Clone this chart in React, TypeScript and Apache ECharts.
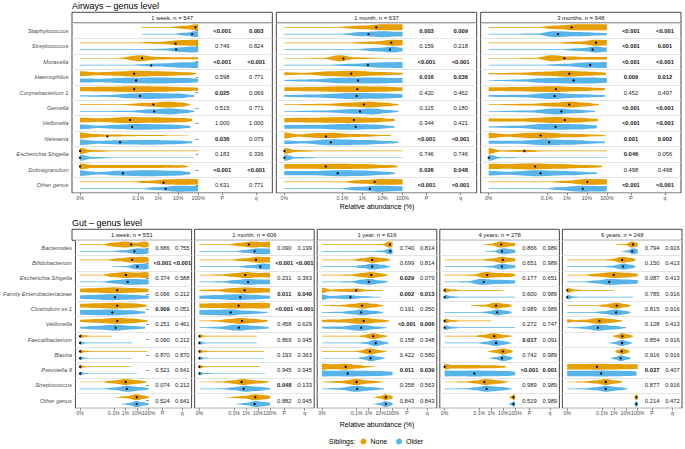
import React, { useEffect, useRef } from "react";
import * as echarts from "echarts";

// x positions are log10(relative abundance as a fraction); 0% is drawn at Z
const Z = -5.9;
const FONT = "'Liberation Sans', Arial, Helvetica, sans-serif";
const NONE_COLOR = "#E69F00";
const OLDER_COLOR = "#56B4E9";

const xLabelValues = [Z, -3, -2, -1, 0, 1.2, 2.9];
const xLabelTexts = ["0%", "0.1%", "1%", "10%", "100%", "P", "q"];

const airwaysGenera = ["Staphylococcus", "Streptococcus", "Moraxella", "Haemophilus", "Corynebacterium 1", "Gemella", "Veillonella", "Neisseria", "Escherichia Shigella", "Dolosigranulum", "Other genus"];
const gutGenera = ["Bacteroides", "Bifidobacterium", "Escherichia Shigella", "Family Enterobacteriaceae", "Clostridium ss 1", "Veillonella", "Faecalibacterium", "Blautia", "Prevotella 9", "Streptococcus", "Other genus"];

const airwaysTitles = ["1 week, n = 547", "1 month, n = 637", "3 months, n = 648"];
const gutTitles = ["1 week, n = 551", "1 month, n = 606", "1 year, n = 616", "4 years, n = 278", "6 years, n = 248"];

// ---------- Airways, 1 week ----------
const awWeekNone = [
  [-2.85, 0.05, -1.5, 0.12, -0.6, 0.55, -0.1, 1, 0, 1],
  [Z, 0.04, -3.5, 0.06, -2, 0.3, -0.8, 0.9, -0.2, 1, 0, 1],
  [Z, 0.05, -4, 0.1, -2.9, 1, -2, 0.4, -1, 0.35, 0, 0.35],
  [Z, 0.8, -5, 0.5, -4, 0.7, -3.2, 1, -2, 0.8, -0.5, 0.5, -0.1, 0.2],
  [Z, 0.7, -4.5, 0.8, -3.2, 1, -2, 0.9, -0.5, 0.6, 0, 0.5],
  [Z, 0.05, -3.8, 0.15, -2.5, 0.6, -1.5, 1, -0.8, 0.7, -0.4, 0.2],
  [Z, 0.8, -5, 0.6, -3.5, 1, -2, 0.9, -0.7, 0.7, -0.3, 0.4],
  [Z, 1, -5.2, 0.5, -4.5, 0.35, -3, 0.2, -1, 0.1, -0.5, 0.05],
  [Z, 1, -5.3, 0.3, -4, 0.1, -1, 0.06, 0, 0.04],
  [Z, 1, -5.3, 0.5, -4, 0.5, -2, 0.5, -0.8, 0.4, -0.5, 0.2],
  [Z, 0.04, -3.5, 0.06, -2.5, 0.4, -1.5, 0.9, -0.5, 1, 0, 0.9],
];
const awWeekOlder = [
  [-2.8, 0.05, -1.3, 0.1, -0.6, 0.5, -0.15, 1, 0, 0.9],
  [Z, 0.04, -3, 0.06, -1.8, 0.25, -0.8, 0.8, -0.3, 1, 0, 0.9],
  [Z, 0.04, -3.5, 0.1, -2, 0.5, -0.8, 0.9, 0, 1],
  [Z, 0.7, -5, 0.6, -3.5, 0.9, -2, 1, -0.5, 0.8, 0, 0.6],
  [Z, 0.2, -4.5, 0.3, -3.3, 0.8, -2.5, 1, -1, 0.8, -0.2, 0.3],
  [Z, 0.05, -3.5, 0.2, -2.3, 0.7, -1.4, 1, -0.6, 0.6, -0.2, 0.2],
  [Z, 0.8, -5, 0.4, -4, 0.7, -3, 1, -1.5, 0.8, -0.4, 0.4],
  [Z, 0.9, -5, 0.5, -3.9, 0.7, -2.5, 0.8, -1, 0.6, -0.3, 0.3],
  [Z, 1, -5.3, 0.3, -4, 0.1, -1, 0.06, -0.2, 0.04],
  [Z, 0.9, -5, 0.4, -4, 0.8, -2.5, 1, -1, 0.8, -0.4, 0.4],
  [Z, 0.04, -3, 0.06, -2, 0.5, -1, 1, 0, 0.9],
];
const awWeekNoneDot = [-0.14, -1.15, -2.8, -3.2, -3.2, -2.24, -3.4, -4.55, Z, Z, -1.75];
const awWeekOlderDot = [-0.3, -1.1, -2.35, -3.1, -2.9, -2.2, -3.3, -3.9, Z, -3.76, -1.63];
const awWeekP = ["<0.001", "0.749", "<0.001", "0.598", "0.025", "0.515", "1.000", "0.036", "0.183", "<0.001", "0.631"];
const awWeekQ = ["0.003", "0.824", "<0.001", "0.771", "0.069", "0.771", "1.000", "0.079", "0.336", "<0.001", "0.771"];

// ---------- Airways, 1 month ----------
const awMonthNone = [
  [Z, 0.04, -3.4, 0.1, -2, 0.6, -1, 1, 0, 1],
  [Z, 0.04, -3, 0.08, -1.5, 0.4, -0.4, 1, 0, 0.9],
  [Z, 0.05, -4, 0.15, -3.1, 1, -2.4, 0.3, -1, 0.1, 0, 0.08],
  [Z, 0.5, -5, 0.3, -3.5, 0.8, -2.6, 1, -1.2, 0.6, 0, 0.3],
  [Z, 0.6, -4.5, 0.7, -2.8, 1, -1.2, 0.9, 0, 0.6],
  [Z, 0.1, -4, 0.25, -2.5, 0.7, -1.7, 1, -0.8, 0.6, -0.2, 0.2],
  [Z, 0.7, -4.5, 0.8, -2.8, 1, -1.5, 0.8, -0.4, 0.4],
  [Z, 1, -5.2, 0.4, -4.3, 0.8, -3.5, 0.9, -2.5, 0.5, -0.6, 0.15],
  [Z, 1, -5.3, 0.3, -4, 0.1, -1, 0.05, 0, 0.04],
  [Z, 0.8, -4.5, 0.8, -3.5, 0.9, -2, 0.8, -0.8, 0.5, -0.25, 0.3],
  [Z, 0.04, -3.2, 0.08, -2, 0.6, -1, 1, 0, 0.9],
];
const awMonthOlder = [
  [Z, 0.04, -3.2, 0.1, -2, 0.7, -1, 1, -0.3, 0.8, 0, 0.8],
  [Z, 0.04, -2.5, 0.08, -1.2, 0.6, -0.5, 1, 0, 0.6],
  [Z, 0.04, -4, 0.08, -2.5, 0.4, -1, 0.9, 0, 1],
  [Z, 0.2, -4.5, 0.4, -3, 0.9, -1.5, 1, 0, 0.8],
  [Z, 0.3, -4.5, 0.5, -2.5, 1, -1, 0.9, 0, 0.6],
  [Z, 0.1, -4, 0.3, -2.3, 0.8, -1.5, 1, -0.7, 0.5, -0.2, 0.2],
  [Z, 0.6, -4.5, 0.6, -2.7, 1, -1.5, 0.8, -0.4, 0.3],
  [Z, 0.6, -5, 0.4, -3.5, 1, -2, 0.8, -0.5, 0.4, -0.2, 0.2],
  [Z, 1, -5.3, 0.25, -4, 0.08, -1, 0.05, 0, 0.04],
  [Z, 0.7, -4.5, 0.7, -3.2, 1, -2, 0.9, -0.8, 0.5, -0.4, 0.3],
  [Z, 0.04, -3.2, 0.08, -2.2, 0.6, -1.2, 1, 0, 0.8],
];
const awMonthNoneDot = [-1.31, -0.56, -2.95, -2.56, -2.26, -1.93, -2.43, -3.85, Z, -3.83, -1.39];
const awMonthOlderDot = [-1.7, -0.63, -1.73, -2.22, -2.29, -2.12, -2.34, -3.58, Z, -3.24, -1.63];
const awMonthP = ["0.003", "0.159", "<0.001", "0.016", "0.420", "0.115", "0.344", "<0.001", "0.746", "0.026", "<0.001"];
const awMonthQ = ["0.009", "0.218", "<0.001", "0.036", "0.462", "0.180", "0.421", "<0.001", "0.746", "0.048", "<0.001"];

// ---------- Airways, 3 months ----------
const aw3MonthNone = [
  [Z, 0.04, -3.5, 0.1, -2.5, 0.6, -1.5, 1, 0, 1],
  [Z, 0.04, -2.8, 0.08, -1.4, 0.4, -0.5, 1, 0, 0.9],
  [Z, 0.04, -3.6, 0.15, -2.7, 1, -2, 0.6, -1, 0.4, 0, 0.4],
  [Z, 0.2, -4.5, 0.3, -3, 0.7, -2, 1, -1, 0.7, -0.05, 0.4],
  [Z, 0.6, -4.5, 0.7, -2.7, 1, -1.5, 0.7, -0.1, 0.4],
  [Z, 0.1, -3.8, 0.3, -2.5, 0.7, -1.8, 1, -1, 0.6, -0.4, 0.2],
  [Z, 0.5, -4.5, 0.5, -2.5, 1, -1.5, 0.8, -0.45, 0.4],
  [Z, 0.9, -5, 0.4, -3.8, 0.9, -3.2, 1, -2, 0.6, -0.1, 0.2],
  [Z, 1, -5.3, 0.2, -4.6, 0.3, -4.1, 0.4, -3, 0.1, 0, 0.05],
  [Z, 0.9, -5, 0.8, -3.8, 1, -2.5, 0.8, -1, 0.5, -0.25, 0.3],
  [Z, 0.04, -3, 0.08, -2, 0.4, -1, 1, 0, 0.9],
];
const aw3MonthOlder = [
  [Z, 0.04, -3.5, 0.2, -2.6, 1, -1.5, 0.7, 0, 0.4],
  [Z, 0.04, -2.5, 0.08, -1.2, 0.5, -0.6, 1, 0, 0.7],
  [Z, 0.04, -3.5, 0.08, -2, 0.4, -1, 0.9, 0, 1],
  [Z, 0.1, -4.5, 0.3, -3, 0.8, -1.8, 1, -0.8, 1, 0, 0.8],
  [Z, 0.3, -4.3, 0.4, -2.7, 1, -1.5, 0.6, -0.1, 0.3],
  [Z, 0.1, -4, 0.3, -2.5, 1, -1.5, 0.6, -0.6, 0.2],
  [Z, 0.2, -4.5, 0.4, -3, 1, -1.5, 0.9, -0.5, 0.5],
  [Z, 0.5, -4.5, 0.5, -3, 1, -2, 0.8, -0.1, 0.3],
  [Z, 1, -5.3, 0.2, -4, 0.08, 0, 0.04],
  [Z, 0.8, -5, 0.5, -3.5, 1, -2, 0.7, -0.5, 0.3],
  [Z, 0.04, -3.2, 0.08, -2.3, 0.5, -1.3, 1, 0, 0.9],
];
const aw3MonthNoneDot = [-1.76, -0.54, -2.12, -1.88, -2.54, -1.88, -2.1, -3.31, -4.12, -3.58, -0.97];
const aw3MonthOlderDot = [-2.44, -0.71, -0.83, -1.66, -2.61, -2.27, -2.56, -2.88, Z, -3.31, -1.2];
const aw3MonthP = ["<0.001", "<0.001", "<0.001", "0.009", "0.452", "<0.001", "<0.001", "0.001", "0.046", "0.498", "<0.001"];
const aw3MonthQ = ["<0.001", "0.001", "<0.001", "0.012", "0.497", "<0.001", "<0.001", "0.002", "0.056", "0.498", "<0.001"];

// ---------- Gut, 1 week ----------
const gutWeekNone = [
  [Z, 0.04, -4, 0.1, -3, 0.7, -2, 1, -1, 0.6, -0.4, 1, 0, 0.8],
  [Z, 0.04, -3.8, 0.1, -2.5, 0.5, -1.5, 0.9, -0.5, 1, 0, 0.8],
  [Z, 0.04, -4, 0.15, -3, 0.7, -2, 1, -1, 0.8, -0.3, 1, 0, 0.9],
  [Z, 0.6, -5, 0.7, -3, 1, -1.5, 0.8, -0.3, 0.6, 0, 0.4],
  [Z, 0.6, -4.5, 0.8, -2.8, 1, -1.5, 0.8, -0.2, 0.4],
  [Z, 0.4, -4.5, 0.6, -2.8, 1, -1.5, 0.8, -0.1, 0.3],
  [Z, 0.7, -5.5, 0.3, -5, 0.08, -3.2, 0.04],
  [Z, 0.7, -5.5, 0.25, -4.8, 0.08, -2, 0.05, -0.1, 0.03],
  [Z, 0.7, -5.5, 0.2, -5, 0.06, -1.6, 0.04],
  [Z, 0.04, -4, 0.1, -3, 0.5, -2, 1, -1, 0.6, -0.2, 0.2],
  [-2.9, 0.05, -2, 0.3, -1, 1, -0.5, 0.6, 0, 0.3],
];
const gutWeekOlder = [
  [Z, 0.04, -3.5, 0.08, -2, 0.4, -1, 1, -0.2, 0.9, 0, 0.6],
  [-3.1, 0.05, -2, 0.2, -1, 0.9, -0.3, 1, 0, 0.7],
  [Z, 0.04, -4, 0.1, -2.8, 0.6, -1.7, 1, -0.5, 0.9, 0, 0.8],
  [Z, 0.6, -5, 0.7, -3.2, 1, -1.5, 0.8, 0, 0.5],
  [Z, 0.8, -4.5, 0.9, -3.2, 1, -1.5, 0.7, -0.3, 0.3],
  [Z, 0.3, -4.5, 0.6, -2.9, 1, -1.5, 0.6, -0.3, 0.3],
  [Z, 0.6, -5.5, 0.2, -5, 0.06, -1.4, 0.04],
  [Z, 0.6, -5.5, 0.2, -5, 0.06, -1.4, 0.04],
  [Z, 0.6, -5.5, 0.2, -5, 0.06, -1, 0.04],
  [Z, 0.04, -4, 0.08, -3, 0.4, -1.8, 1, -0.8, 0.6, 0, 0.3],
  [-2.3, 0.05, -1.7, 0.4, -1, 1, -0.5, 0.6, 0, 0.3],
];
const gutWeekNoneDot = [-1.5, -1.42, -1.95, -2.7, -2.7, -2.7, Z, Z, Z, -1.98, -1.03];
const gutWeekOlderDot = [-1.22, -0.97, -1.81, -2.9, -3.12, -2.84, Z, Z, Z, -1.87, -1.03];
const gutWeekP = ["0.686", "<0.001", "0.374", "0.096", "0.009", "0.251", "0.090", "0.870", "0.521", "0.074", "0.524"];
const gutWeekQ = ["0.755", "<0.001", "0.588", "0.212", "0.051", "0.461", "0.212", "0.870", "0.641", "0.212", "0.641"];

// ---------- Gut, 1 month ----------
const gutMonthNone = [
  [Z, 0.04, -3.5, 0.1, -2.5, 0.6, -1.5, 1, -0.5, 0.8, 0, 1],
  [Z, 0.04, -3.5, 0.08, -2, 0.5, -1, 1, 0, 0.9],
  [Z, 0.05, -4.2, 0.2, -3, 0.6, -2, 1, -1, 0.7, 0, 0.8],
  [Z, 0.2, -4.5, 0.3, -3, 0.8, -2, 1, -1, 0.8, 0, 0.7],
  [Z, 0.7, -4.5, 0.8, -2.7, 1, -1.5, 0.9, -0.6, 1, 0, 0.8],
  [Z, 0.05, -4.5, 0.2, -3.5, 0.6, -2.5, 1, -1.5, 0.7, -0.2, 0.3],
  [Z, 0.7, -5.5, 0.2, -5, 0.06, -1.1, 0.04],
  [Z, 0.7, -5.5, 0.25, -4.8, 0.08, -0.5, 0.04],
  [Z, 0.6, -5.5, 0.2, -5, 0.06, -0.8, 0.04],
  [Z, 0.05, -4, 0.15, -3, 0.6, -2.3, 1, -1, 0.5, -0.1, 0.2],
  [-3.7, 0.05, -2.2, 0.4, -1.2, 1, -0.5, 0.7, 0, 0.5],
];
const gutMonthOlder = [
  [Z, 0.04, -3, 0.08, -2, 0.5, -1, 1, 0, 0.9],
  [Z, 0.04, -3, 0.06, -1.5, 0.5, -0.6, 1, 0, 0.9],
  [Z, 0.05, -4, 0.2, -3, 0.6, -1.8, 1, -0.8, 0.8, 0, 0.8],
  [Z, 0.5, -4.5, 0.7, -2.6, 1, -1.5, 0.8, 0, 0.5],
  [Z, 0.8, -4.5, 0.9, -3.3, 1, -2, 0.6, -0.2, 0.2],
  [Z, 0.05, -4.5, 0.3, -2.6, 1, -1.2, 0.6, -0.1, 0.3],
  [Z, 0.6, -5.5, 0.2, -5, 0.06, -1.1, 0.04],
  [Z, 0.6, -5.5, 0.2, -5, 0.08, -0.5, 0.04],
  [Z, 0.6, -5.5, 0.2, -4.5, 0.1, -0.4, 0.05],
  [Z, 0.05, -4, 0.15, -3, 0.5, -2.1, 1, -1, 0.7, 0, 0.3],
  [-2.8, 0.05, -2, 0.4, -1.2, 1, -0.5, 0.7, 0, 0.5],
];
const gutMonthNoneDot = [-1.77, -1.17, -2.06, -2.12, -2.62, -2.34, Z, Z, Z, -2.37, -1.22];
const gutMonthOlderDot = [-1.28, -0.8, -1.83, -2.48, -3.28, -2.6, Z, Z, Z, -2.2, -1.28];
const gutMonthP = ["0.090", "<0.001", "0.231", "0.011", "<0.001", "0.458", "0.869", "0.193", "0.945", "0.048", "0.882"];
const gutMonthQ = ["0.199", "<0.001", "0.363", "0.040", "<0.001", "0.629", "0.945", "0.363", "0.945", "0.133", "0.945"];

// ---------- Gut, 1 year ----------
const gutYearNone = [
  [Z, 0.03, -2, 0.06, -0.8, 0.2, -0.3, 1, 0, 0.9],
  [Z, 0.04, -3.5, 0.1, -2.5, 0.5, -1.7, 1, -0.8, 0.6, -0.2, 0.2],
  [Z, 0.04, -3.5, 0.2, -2.5, 0.7, -1.8, 1, -1, 0.6, -0.4, 0.2],
  [Z, 0.9, -5.2, 0.3, -4, 0.5, -3, 0.6, -2, 0.2, -0.8, 0.06],
  [Z, 0.1, -4.5, 0.2, -3.3, 0.6, -2.5, 1, -1.5, 0.6, -0.8, 0.2],
  [Z, 0.4, -4.5, 0.5, -2.5, 1, -1, 0.5, -0.3, 0.2],
  [Z, 0.03, -3, 0.06, -2.5, 0.3, -1.6, 1, -0.8, 0.4, -0.4, 0.1],
  [Z, 0.03, -3.3, 0.06, -2.8, 0.3, -1.9, 1, -1, 0.4, -0.5, 0.1],
  [Z, 1, -5, 0.8, -3.9, 1, -3, 0.6, -2, 0.2, -1.5, 0.08],
  [Z, 0.1, -4.5, 0.3, -3, 1, -2, 0.5, -0.7, 0.1],
  [-1.6, 0.05, -1, 0.4, -0.6, 1, -0.2, 0.6, 0, 0.4],
];
const gutYearOlder = [
  [Z, 0.03, -2, 0.06, -0.8, 0.3, -0.2, 1, 0, 0.8],
  [Z, 0.04, -3.5, 0.1, -2.5, 0.5, -1.7, 1, -0.8, 0.6, -0.2, 0.2],
  [Z, 0.04, -3.5, 0.2, -2.5, 0.8, -2, 1, -1, 0.5, -0.4, 0.2],
  [Z, 0.9, -5.2, 0.4, -3.6, 0.7, -2.5, 0.3, -1, 0.06],
  [Z, 0.1, -4.5, 0.2, -3.3, 0.6, -2.6, 1, -1.5, 0.5, -0.8, 0.2],
  [Z, 0.3, -4.5, 0.4, -2.7, 1, -1.2, 0.4, -0.5, 0.15],
  [Z, 0.03, -3, 0.06, -2.3, 0.3, -1.4, 1, -0.6, 0.4, -0.3, 0.1],
  [Z, 0.03, -3, 0.06, -2.6, 0.3, -1.8, 1, -1, 0.4, -0.6, 0.1],
  [Z, 1, -5, 0.9, -3.7, 1, -2.5, 0.9, -1, 0.8, 0, 0.6],
  [Z, 0.1, -4.5, 0.3, -3, 1, -2, 0.6, -0.7, 0.2],
  [-1.6, 0.05, -1, 0.4, -0.6, 1, -0.2, 0.6, 0, 0.4],
];
const gutYearNoneDot = [-0.22, -1.7, -1.78, -3.04, -2.55, -2.41, -1.61, -1.9, -3.92, -3.01, -0.56];
const gutYearOlderDot = [-0.19, -1.7, -1.99, -3.52, -2.63, -2.63, -1.41, -1.84, -3.75, -2.95, -0.56];
const gutYearP = ["0.740", "0.699", "0.029", "0.002", "0.191", "<0.001", "0.158", "0.422", "0.011", "0.358", "0.843"];
const gutYearQ = ["0.814", "0.814", "0.079", "0.013", "0.350", "0.006", "0.348", "0.580", "0.039", "0.563", "0.843"];

// ---------- Gut, 4 years ----------
const gut4YearNone = [
  [-2.6, 0.05, -2, 0.3, -1.2, 1, -0.3, 0.6, 0, 0.5],
  [Z, 0.03, -3, 0.06, -2, 0.4, -1.1, 1, -0.3, 0.6, 0, 0.5],
  [Z, 0.04, -3.5, 0.2, -2.5, 1, -1.5, 0.7, -0.5, 0.6, 0, 0.4],
  [Z, 0.8, -5.3, 0.3, -4.5, 0.15, -1, 0.05],
  [-3.7, 0.05, -2.6, 0.3, -1.6, 1, -0.8, 0.6, -0.3, 0.3],
  [Z, 0.8, -5.3, 0.3, -4.5, 0.15, -2, 0.05],
  [Z, 0.03, -3.5, 0.06, -2.8, 0.4, -1.8, 1, -0.8, 0.4, -0.2, 0.1],
  [-2.3, 0.05, -1.8, 0.4, -1, 1, -0.5, 0.6, -0.2, 0.2],
  [Z, 1, -5.3, 0.6, -4, 0.6, -2, 0.5, -0.8, 0.3],
  [Z, 0.04, -4, 0.2, -3.3, 0.5, -2.5, 1, -1.5, 0.6, -0.5, 0.1],
  [-0.5, 0.05, -0.3, 0.5, -0.1, 1, 0, 0.6],
];
const gut4YearOlder = [
  [-2.5, 0.04, -1.8, 0.2, -1, 1, -0.3, 0.7, 0, 0.5],
  [Z, 0.03, -3, 0.06, -2, 0.3, -1.1, 1, -0.3, 0.6, 0, 0.5],
  [Z, 0.04, -4, 0.2, -2.8, 1, -1.5, 0.7, -0.5, 0.6, 0, 0.5],
  [Z, 0.8, -5.3, 0.3, -4.5, 0.1, 0, 0.03],
  [Z, 0.03, -3, 0.06, -2.2, 0.4, -1.5, 1, -0.8, 0.6, -0.3, 0.3],
  [Z, 0.8, -5.3, 0.3, -4.5, 0.1, 0, 0.03],
  [Z, 0.03, -3.2, 0.06, -2.5, 0.4, -1.6, 1, -0.8, 0.5, -0.3, 0.1],
  [-2.2, 0.05, -1.6, 0.4, -1, 1, -0.5, 0.6, -0.2, 0.2],
  [Z, 1, -5, 0.9, -3.4, 1, -2, 0.9, -0.5, 0.8, 0, 0.6],
  [Z, 0.04, -4, 0.2, -3.3, 0.5, -2.4, 1, -1.2, 0.6, -0.3, 0.2],
  [-0.5, 0.05, -0.3, 0.5, -0.1, 1, 0, 0.6],
];
const gut4YearNoneDot = [-1.16, -1.02, -2.33, Z, -1.6, Z, -1.75, -1.02, Z, -2.57, -0.14];
const gut4YearOlderDot = [-1.1, -1.1, -2.63, Z, -1.51, Z, -1.6, -1.1, -3.41, -2.39, -0.14];
const gut4YearP = ["0.866", "0.651", "0.177", "0.600", "0.989", "0.272", "0.017", "0.742", "<0.001", "0.989", "0.519"];
const gut4YearQ = ["0.989", "0.989", "0.651", "0.989", "0.989", "0.747", "0.091", "0.989", "0.001", "0.989", "0.989"];

// ---------- Gut, 6 years ----------
const gut6YearNone = [
  [-1.8, 0.05, -1, 0.2, -0.5, 1, 0, 0.6],
  [Z, 0.03, -3, 0.06, -2.2, 0.3, -1.3, 1, -0.5, 0.6, -0.2, 0.3],
  [Z, 0.03, -4.5, 0.1, -3.5, 0.5, -2, 1, -1, 0.8, 0, 0.5],
  [Z, 0.9, -5.3, 0.3, -4.5, 0.15, -2, 0.05],
  [Z, 0.03, -3.5, 0.06, -2.8, 0.4, -1.8, 1, -1, 0.5, -0.6, 0.2],
  [Z, 0.6, -5.3, 0.3, -4.5, 0.4, -3.2, 1, -2.2, 0.6, -1.3, 0.2],
  [-2.1, 0.05, -1.8, 0.4, -1.3, 1, -0.8, 0.6, -0.4, 0.2],
  [-1.9, 0.05, -1.7, 0.5, -1.3, 1, -0.9, 0.6, -0.7, 0.3],
  [Z, 0.9, -4.5, 0.9, -3.4, 1, -2, 0.9, -0.5, 0.8, 0, 0.8],
  [Z, 0.04, -4.5, 0.2, -3.5, 0.5, -2.7, 1, -1.8, 0.5, -1.3, 0.2],
  [-0.3, 0.05, -0.15, 1, 0, 0.7],
];
const gut6YearOlder = [
  [-1.3, 0.05, -0.9, 0.3, -0.4, 1, 0, 0.7],
  [Z, 0.03, -3, 0.06, -2.2, 0.3, -1.2, 1, -0.5, 0.6, -0.2, 0.3],
  [Z, 0.03, -4.5, 0.15, -3.5, 0.5, -2.3, 1, -1, 0.8, 0, 0.6],
  [Z, 0.8, -5.3, 0.2, -4.5, 0.06, -0.4, 0.03],
  [Z, 0.03, -3.8, 0.06, -3, 0.4, -1.8, 1, -1, 0.5, -0.6, 0.2],
  [Z, 0.1, -5, 0.2, -4.5, 0.4, -3.3, 1, -2, 0.6, -1, 0.2],
  [-2.4, 0.05, -2, 0.3, -1.3, 1, -0.8, 0.5, -0.5, 0.2],
  [-2.3, 0.05, -1.9, 0.4, -1.4, 1, -0.9, 0.5, -0.6, 0.2],
  [Z, 0.9, -4.5, 0.9, -3, 1, -1.8, 0.9, -0.5, 0.8, -0.1, 0.7],
  [Z, 0.04, -4.5, 0.2, -3.5, 0.5, -2.7, 1, -1.5, 0.5, -0.9, 0.2],
  [-0.3, 0.05, -0.15, 1, 0, 0.7],
];
const gut6YearNoneDot = [-0.4, -1.31, -2.01, Z, -1.75, -3.21, -1.28, -1.34, -3.41, -2.68, -0.11];
const gut6YearOlderDot = [-0.46, -1.22, -2.39, Z, -1.81, -3.33, -1.31, -1.43, -3.06, -2.68, -0.11];
const gut6YearP = ["0.794", "0.150", "0.087", "0.785", "0.815", "0.128", "0.854", "0.916", "0.037", "0.877", "0.214"];
const gut6YearQ = ["0.916", "0.413", "0.413", "0.916", "0.916", "0.413", "0.916", "0.916", "0.407", "0.916", "0.472"];

type Panel = {
  title: string;
  none: number[][];
  older: number[][];
  noneDot: number[];
  olderDot: number[];
  p: string[];
  q: string[];
};

const airwaysPanels: Panel[] = [
  { title: airwaysTitles[0], none: awWeekNone, older: awWeekOlder, noneDot: awWeekNoneDot, olderDot: awWeekOlderDot, p: awWeekP, q: awWeekQ },
  { title: airwaysTitles[1], none: awMonthNone, older: awMonthOlder, noneDot: awMonthNoneDot, olderDot: awMonthOlderDot, p: awMonthP, q: awMonthQ },
  { title: airwaysTitles[2], none: aw3MonthNone, older: aw3MonthOlder, noneDot: aw3MonthNoneDot, olderDot: aw3MonthOlderDot, p: aw3MonthP, q: aw3MonthQ },
];
const gutPanels: Panel[] = [
  { title: gutTitles[0], none: gutWeekNone, older: gutWeekOlder, noneDot: gutWeekNoneDot, olderDot: gutWeekOlderDot, p: gutWeekP, q: gutWeekQ },
  { title: gutTitles[1], none: gutMonthNone, older: gutMonthOlder, noneDot: gutMonthNoneDot, olderDot: gutMonthOlderDot, p: gutMonthP, q: gutMonthQ },
  { title: gutTitles[2], none: gutYearNone, older: gutYearOlder, noneDot: gutYearNoneDot, olderDot: gutYearOlderDot, p: gutYearP, q: gutYearQ },
  { title: gutTitles[3], none: gut4YearNone, older: gut4YearOlder, noneDot: gut4YearNoneDot, olderDot: gut4YearOlderDot, p: gut4YearP, q: gut4YearQ },
  { title: gutTitles[4], none: gut6YearNone, older: gut6YearOlder, noneDot: gut6YearNoneDot, olderDot: gut6YearOlderDot, p: gut6YearP, q: gut6YearQ },
];

const HALF = 3.0; // max half-width of a violin, px
const OFF = 3.4; // dodge offset from row centre, px

function isSignificant(s: string) {
  const v = s.startsWith("<") ? 0.0005 : parseFloat(s);
  return v < 0.05;
}

function buildOption() {
  const grid: any[] = [];
  const xAxis: any[] = [];
  const yAxis: any[] = [];
  const series: any[] = [];
  const graphic: any[] = [];

  const addSection = (
    genera: string[],
    panels: Panel[],
    lefts: number[],
    width: number,
    stripTop: number,
    stripH: number,
    gridTop: number,
    gridH: number
  ) => {
    panels.forEach((panel, i) => {
      const g = grid.length;
      grid.push({
        left: lefts[i], top: gridTop, width, height: gridH,
        show: true, borderColor: "#333333", borderWidth: 0.9, backgroundColor: "transparent",
      });
      xAxis.push({
        type: "value", gridIndex: g, min: -6.3, max: 3.7,
        axisLine: { show: false }, splitLine: { show: false },
        axisTick: { show: true, customValues: xLabelValues, length: 2.2, lineStyle: { color: "#333333", width: 0.6 } },
        axisLabel: {
          customValues: xLabelValues, fontSize: 5.2, color: "#4d4d4d", margin: 2.5, fontFamily: FONT,
          formatter: (v: number) => {
            let best = 0;
            xLabelValues.forEach((xv, k) => { if (Math.abs(xv - v) < Math.abs(xLabelValues[best] - v)) best = k; });
            return xLabelTexts[best];
          },
        },
      });
      yAxis.push({
        type: "category", gridIndex: g, data: genera, inverse: true,
        axisLine: { show: false },
        axisTick: { show: i === 0, alignWithLabel: true, interval: 0, length: 2.5, lineStyle: { color: "#333333", width: 0.6 } },
        axisLabel: { show: i === 0, interval: 0, fontSize: 5.8, fontStyle: "italic", color: "#4d4d4d", margin: 3.5, fontFamily: FONT },
        splitLine: { show: true, interval: 0, lineStyle: { color: "#e2e2e2", width: 0.9 } },
      });

      const violinData: number[][] = [];
      genera.forEach((_, r) => {
        violinData.push([panel.noneDot[r], r, 0]);
        violinData.push([panel.olderDot[r], r, 1]);
      });
      series.push({
        type: "custom", xAxisIndex: g, yAxisIndex: g, coordinateSystem: "cartesian2d",
        data: violinData, encode: { x: 0, y: 1 }, silent: true,
        renderItem: (params: any, api: any) => {
          const idx = params.dataIndex;
          const row = Math.floor(idx / 2);
          const grp = idx % 2;
          const prof = grp === 0 ? panel.none[row] : panel.older[row];
          const base = api.coord([0, row]);
          const cy = base[1] + (grp === 0 ? -OFF : OFF);
          const topPts: number[][] = [];
          const botPts: number[][] = [];
          const n = prof.length / 2;
          for (let k = 0; k < n - 1; k++) {
            const t0 = prof[2 * k], w0 = prof[2 * k + 1];
            const t1 = prof[2 * k + 2], w1 = prof[2 * k + 3];
            const steps = 8;
            for (let s = k === 0 ? 0 : 1; s <= steps; s++) {
              const f = s / steps;
              const e = (1 - Math.cos(Math.PI * f)) / 2;
              const t = t0 + (t1 - t0) * f;
              const w = w0 + (w1 - w0) * e;
              const x = api.coord([t, row])[0];
              const hw = Math.max(w * HALF, 0.35);
              topPts.push([x, cy - hw]);
              botPts.push([x, cy + hw]);
            }
          }
          const pts = topPts.concat(botPts.reverse());
          const dx = api.coord([api.value(0), row])[0];
          return {
            type: "group",
            children: [
              { type: "polygon", shape: { points: pts }, style: { fill: grp === 0 ? NONE_COLOR : OLDER_COLOR } },
              { type: "circle", shape: { cx: dx, cy, r: 1.15 }, style: { fill: "#000000" } },
            ],
          };
        },
      });

      const statData: number[][] = [];
      genera.forEach((_, r) => {
        statData.push([1.2, r, 0]);
        statData.push([2.9, r, 1]);
      });
      series.push({
        type: "custom", xAxisIndex: g, yAxisIndex: g, coordinateSystem: "cartesian2d",
        data: statData, encode: { x: 0, y: 1 }, silent: true,
        renderItem: (params: any, api: any) => {
          const idx = params.dataIndex;
          const row = Math.floor(idx / 2);
          const col = idx % 2;
          const s = col === 0 ? panel.p[row] : panel.q[row];
          const pos = api.coord([api.value(0), row]);
          return {
            type: "text", x: pos[0], y: pos[1],
            style: {
              text: s, fontSize: 5.8, fontFamily: FONT,
              fontWeight: isSignificant(s) ? "bold" : "normal",
              fill: "#1a1a1a", align: "center", verticalAlign: "middle",
            },
          };
        },
      });

      graphic.push({
        type: "rect", shape: { x: lefts[i], y: stripTop, width, height: stripH },
        style: { fill: "#ffffff", stroke: "#333333", lineWidth: 0.9 }, silent: true,
      });
      graphic.push({
        type: "text", x: lefts[i] + width / 2, y: stripTop + stripH / 2,
        style: { text: panel.title, fontSize: 5.9, fill: "#1a1a1a", align: "center", verticalAlign: "middle", fontFamily: FONT },
        silent: true,
      });
    });
  };

  const topLefts = [0, 1, 2].map((i) => 72 + i * 204.33);
  const botLefts = [0, 1, 2, 3, 4].map((i) => 72 + i * 122.6);
  addSection(airwaysGenera, airwaysPanels, topLefts, 200.33, 12.3, 10.7, 23, 170);
  addSection(gutGenera, gutPanels, botLefts, 119.6, 229.3, 11, 240.3, 168);

  const txt = (text: string, x: number, y: number, size: number, align = "left") => ({
    type: "text", x, y, silent: true,
    style: { text, fontSize: size, fill: "#000000", align, verticalAlign: "middle", fontFamily: FONT },
  });
  graphic.push(txt("Airways \u2013 genus level", 72, 5.5, 9));
  graphic.push(txt("Gut \u2013 genus level", 72, 222.5, 9));
  graphic.push(txt("Relative abundance (%)", 377, 206.5, 7, "center"));
  graphic.push(txt("Relative abundance (%)", 377, 424, 7, "center"));
  graphic.push(txt("Siblings:", 329, 441.5, 7));
  graphic.push({ type: "circle", shape: { cx: 363.5, cy: 441.5, r: 3 }, style: { fill: NONE_COLOR }, silent: true });
  graphic.push(txt("None", 370.5, 441.5, 7));
  graphic.push({ type: "circle", shape: { cx: 399, cy: 441.5, r: 3 }, style: { fill: OLDER_COLOR }, silent: true });
  graphic.push(txt("Older", 406, 441.5, 7));

  return {
    animation: false,
    backgroundColor: "#ffffff",
    textStyle: { fontFamily: FONT },
    grid, xAxis, yAxis, series, graphic,
  };
}

export default function App() {
  const ref = useRef<HTMLDivElement>(null);
  useEffect(() => {
    const chart = echarts.init(ref.current!, null, { renderer: "svg" });
    chart.setOption(buildOption() as any);
    return () => chart.dispose();
  }, []);
  return (
    <div
      ref={ref}
      style={{ position: "fixed", left: 0, top: 0, width: 685, height: 449, background: "#ffffff" }}
    />
  );
}
